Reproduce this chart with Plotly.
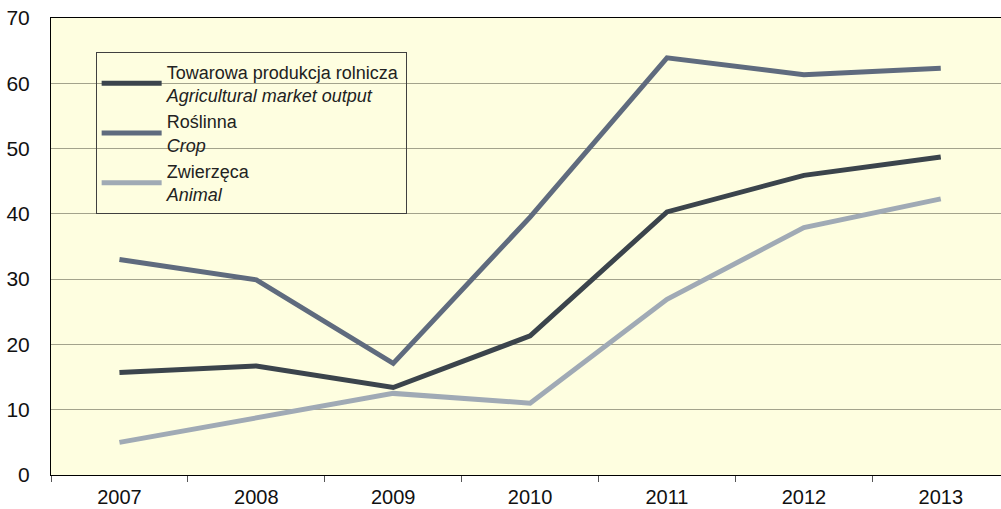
import plotly.graph_objects as go

years = ["2007", "2008", "2009", "2010", "2011", "2012", "2013"]
market = [15.7, 16.7, 13.4, 21.3, 40.3, 45.9, 48.7]
crop = [33.0, 29.9, 17.1, 39.5, 63.9, 61.3, 62.3]
animal = [5.0, 8.8, 12.5, 11.0, 26.9, 37.9, 42.3]

names = [
    "Towarowa produkcja rolnicza<br><i>Agricultural market output</i>",
    "Roślinna<br><i>Crop</i>",
    "Zwierzęca<br><i>Animal</i>",
]
colors = ["#3B444C", "#5F6B7E", "#A0AAB5"]
series = [market, crop, animal]

fig = go.Figure()
for n, c, s in zip(names, colors, series):
    fig.add_trace(go.Scatter(x=years, y=s, mode="lines", name=n,
                             line=dict(color=c, width=5)))

fig.update_layout(
    width=1001, height=509,
    margin=dict(l=51, r=0, t=18, b=34, autoexpand=False),
    paper_bgcolor="white",
    plot_bgcolor="#FEFEE0",
    font=dict(family="Liberation Sans, Arial, sans-serif", color="#111111"),
    showlegend=True,
    legend=dict(
        x=0.047, y=0.925, xanchor="left", yanchor="top",
        bgcolor="rgba(0,0,0,0)", bordercolor="#404040", borderwidth=1,
        font=dict(size=18, color="#222222"),
        itemwidth=60,
    ),
    xaxis=dict(
        type="category", range=[-0.5, 6.44], automargin=False,
        showline=True, linecolor="#000000", linewidth=1, mirror=True,
        ticks="outside", tickson="boundaries", ticklen=6, tickcolor="#555555",
        showgrid=False, tickfont=dict(size=20), ticklabelstandoff=4,
        ticklabeloverflow="allow",
    ),
    yaxis=dict(
        range=[0, 70], dtick=10, automargin=False,
        showline=True, linecolor="#000000", linewidth=1,
        showgrid=True, gridcolor="#A3A38C", gridwidth=1,
        ticks="", tickfont=dict(size=21), zeroline=False,
        ticklabelstandoff=16, ticklabeloverflow="allow",
    ),
)
fig.write_html("out.html", config={"displayModeBar": False},
               post_script="document.body.style.margin='0';")
